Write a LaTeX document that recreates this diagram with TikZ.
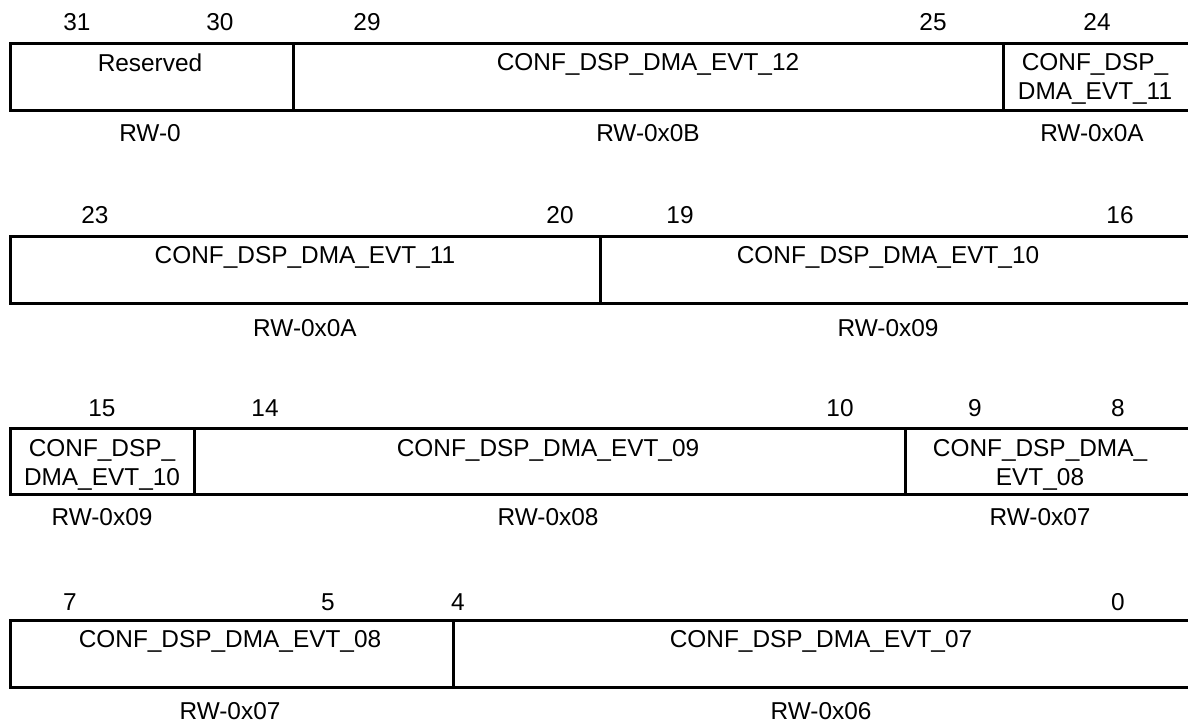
\documentclass[tikz,border=0pt]{standalone}
\usepackage{fontspec}
\setmainfont{Liberation Sans}
\begin{document}
\begin{tikzpicture}[x=0.5pt,y=-0.5pt,
    every node/.style={font=\fontsize{12.2}{14.5}\selectfont},
    bitnum/.style={inner sep=0pt},
    field/.style={anchor=north, inner sep=0pt, align=center},
    access/.style={inner sep=0pt},
    regline/.style={line width=1.5pt}]
    \useasboundingbox (0,0) rectangle (1188,724);

    % bits 31-24
    \node[bitnum] (b31) at (77,22) {31};
    \node[bitnum] (b30) at (220,22) {30};
    \node[bitnum] (b29) at (367,22) {29};
    \node[bitnum] (b25) at (933,22) {25};
    \node[bitnum] (b24) at (1097,22) {24};
    \draw[regline] (10,43) rectangle (1195,110);
    \draw[regline] (293,43) -- (293,110);
    \draw[regline] (1003,43) -- (1003,110);
    \node[field] (resv) at (150,53) {Reserved};
    \node[field] (evt12) at (648,53) {CONF\_DSP\_DMA\_EVT\_12};
    \node[field] (evt11hi) at (1095,53) {CONF\_DSP\_\\DMA\_EVT\_11};
    \node[access] (rresv) at (150,133) {RW-0};
    \node[access] (revt12) at (648,133) {RW-0x0B};
    \node[access] (revt11hi) at (1092,133) {RW-0x0A};

    % bits 23-16
    \node[bitnum] (b23) at (95,215) {23};
    \node[bitnum] (b20) at (560,215) {20};
    \node[bitnum] (b19) at (680,215) {19};
    \node[bitnum] (b16) at (1120,215) {16};
    \draw[regline] (10,236) rectangle (1195,303);
    \draw[regline] (600,236) -- (600,303);
    \node[field] (evt11lo) at (305,246) {CONF\_DSP\_DMA\_EVT\_11};
    \node[field] (evt10hi) at (888,246) {CONF\_DSP\_DMA\_EVT\_10};
    \node[access] (revt11lo) at (305,328) {RW-0x0A};
    \node[access] (revt10hi) at (888,328) {RW-0x09};

    % bits 15-8
    \node[bitnum] (b15) at (102,408) {15};
    \node[bitnum] (b14) at (265,408) {14};
    \node[bitnum] (b10) at (840,408) {10};
    \node[bitnum] (b9) at (975,408) {9};
    \node[bitnum] (b8) at (1118,408) {8};
    \draw[regline] (10,428) rectangle (1195,494);
    \draw[regline] (194,428) -- (194,494);
    \draw[regline] (905,428) -- (905,494);
    \node[field] (evt10lo) at (102,439) {CONF\_DSP\_\\DMA\_EVT\_10};
    \node[field] (evt09) at (548,439) {CONF\_DSP\_DMA\_EVT\_09};
    \node[field] (evt08hi) at (1040,439) {CONF\_DSP\_DMA\_\\EVT\_08};
    \node[access] (revt10lo) at (102,517) {RW-0x09};
    \node[access] (revt09) at (548,517) {RW-0x08};
    \node[access] (revt08hi) at (1040,517) {RW-0x07};

    % bits 7-0
    \node[bitnum] (b7) at (70,602) {7};
    \node[bitnum] (b5) at (328,602) {5};
    \node[bitnum] (b4) at (458,602) {4};
    \node[bitnum] (b0) at (1118,602) {0};
    \draw[regline] (10,620) rectangle (1195,687);
    \draw[regline] (453,620) -- (453,687);
    \node[field] (evt08lo) at (230,630) {CONF\_DSP\_DMA\_EVT\_08};
    \node[field] (evt07) at (821,630) {CONF\_DSP\_DMA\_EVT\_07};
    \node[access] (revt08lo) at (230,711) {RW-0x07};
    \node[access] (revt07) at (821,711) {RW-0x06};
\end{tikzpicture}
\end{document}
